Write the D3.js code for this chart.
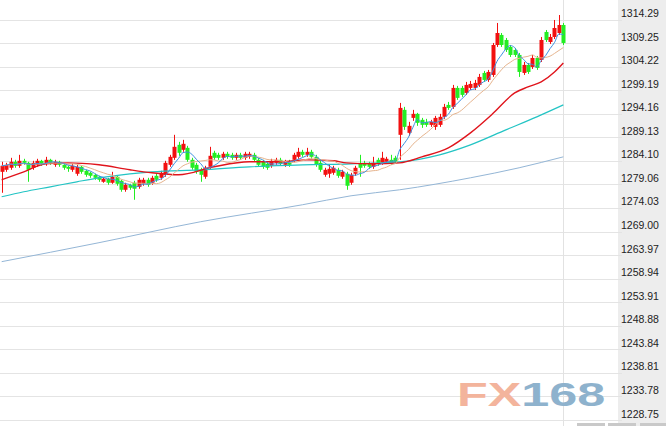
<!DOCTYPE html>
<html><head><meta charset="utf-8">
<script src="https://cdn.jsdelivr.net/npm/d3@7/dist/d3.min.js"></script>
<style>html,body{margin:0;padding:0;background:#fff;overflow:hidden}</style></head>
<body><svg id="c" width="666" height="426"></svg>
<script>
// ---- data ----
const opens = [1280.37,1280.80,1281.23,1282.51,1281.65,1282.72,1282.29,1281.23,1281.87,1282.72,
1282.08,1282.93,1281.87,1282.51,1281.87,1281.44,1280.80,1279.95,1281.44,1280.59,
1280.16,1279.73,1279.31,1278.24,1278.88,1278.03,1279.31,1278.45,1276.53,1277.60,
1278.03,1277.17,1277.81,1278.67,1278.03,1279.52,1279.09,1279.73,1281.87,1283.36,
1286.13,1285.07,1285.49,1282.93,1281.87,1280.80,1279.31,1281.44,1284.43,1284.00,
1283.36,1284.22,1284.00,1283.36,1284.00,1283.36,1283.57,1284.00,1282.93,1282.51,
1282.08,1281.65,1282.29,1282.93,1281.87,1282.51,1282.93,1283.57,1284.64,1284.00,
1284.64,1283.57,1282.29,1279.73,1279.95,1280.16,1280.80,1279.31,1279.95,1278.03,
1279.95,1282.29,1282.29,1282.08,1281.44,1282.93,1282.29,1282.51,1282.93,1283.36,
1288.27,1293.60,1288.69,1291.89,1292.75,1291.47,1291.04,1290.40,1289.97,1290.40,
1292.11,1294.66,1294.24,1298.29,1298.29,1297.22,1298.29,1298.29,1298.93,1301.49,
1300.00,1301.06,1307.46,1309.60,1308.53,1307.04,1306.40,1305.33,1301.49,1303.20,
1302.77,1304.69,1304.26,1310.24,1308.10,1309.17,1310.02,1311.73];
const closes = [1281.65,1281.87,1282.51,1281.65,1282.72,1282.29,1280.80,1282.29,1282.72,1282.08,
1282.93,1282.29,1282.51,1281.87,1281.23,1281.01,1281.65,1281.44,1280.37,1279.73,
1279.52,1279.09,1278.67,1278.88,1278.03,1279.31,1277.81,1276.53,1277.60,1276.96,
1276.75,1278.67,1278.67,1277.60,1279.09,1278.67,1280.16,1282.29,1283.57,1285.71,
1284.43,1286.35,1282.93,1281.23,1280.37,1279.73,1281.23,1283.79,1283.36,1283.36,
1284.22,1283.57,1283.36,1284.00,1283.36,1284.22,1284.22,1282.93,1281.87,1281.44,
1281.23,1282.72,1282.93,1282.08,1282.51,1281.87,1284.00,1284.64,1284.00,1284.64,
1283.57,1281.87,1280.80,1280.80,1281.01,1281.23,1279.52,1280.37,1277.39,1279.73,
1281.23,1281.23,1281.65,1281.44,1282.29,1282.08,1283.36,1283.15,1282.29,1282.51,
1294.02,1289.97,1290.19,1292.75,1290.83,1290.40,1290.40,1291.04,1291.89,1292.11,
1294.24,1294.02,1298.29,1296.16,1296.80,1298.93,1299.14,1299.36,1300.64,1300.00,
1301.70,1307.46,1310.02,1307.46,1306.40,1305.33,1305.33,1301.70,1303.20,1301.70,
1304.69,1302.56,1308.53,1308.53,1309.17,1311.09,1311.73,1307.89];
const highs = [1282.51,1282.29,1283.36,1282.93,1284.00,1283.15,1282.51,1282.72,1283.15,1282.93,
1283.57,1283.15,1282.93,1282.72,1282.08,1281.65,1282.08,1281.87,1281.65,1280.80,
1280.37,1279.95,1279.52,1279.09,1279.09,1280.37,1279.52,1278.67,1278.03,1277.81,
1278.45,1279.09,1279.09,1279.09,1279.52,1279.95,1280.59,1282.72,1284.00,1288.27,
1286.77,1287.20,1285.92,1283.36,1282.29,1281.23,1281.65,1285.71,1284.86,1284.43,
1284.64,1284.64,1284.43,1284.43,1284.43,1284.64,1284.64,1284.43,1283.36,1282.93,
1282.51,1283.15,1283.36,1283.36,1282.93,1282.93,1284.43,1285.49,1285.07,1285.49,
1285.07,1284.00,1282.72,1281.23,1281.87,1281.65,1281.23,1280.80,1280.37,1280.16,
1281.65,1284.00,1282.72,1282.51,1283.57,1283.36,1284.64,1283.57,1284.00,1283.79,
1295.09,1294.24,1291.04,1293.60,1292.96,1291.89,1291.68,1291.47,1292.32,1292.75,
1294.88,1295.30,1298.93,1298.72,1298.72,1299.57,1299.78,1300.00,1301.28,1301.92,
1302.13,1307.89,1312.16,1310.02,1308.96,1307.46,1306.82,1305.76,1303.84,1303.62,
1305.33,1305.12,1309.17,1310.66,1309.81,1312.80,1313.86,1312.16];
const lows = [1275.89,1280.37,1280.80,1281.23,1281.23,1281.87,1278.24,1280.80,1281.44,1281.65,
1281.65,1281.87,1281.44,1281.44,1280.80,1280.37,1280.37,1279.52,1279.95,1279.31,
1279.09,1278.67,1278.24,1278.03,1277.60,1277.81,1277.39,1276.11,1276.11,1276.53,
1274.40,1276.75,1277.39,1277.17,1277.60,1278.24,1278.67,1279.31,1281.44,1282.93,
1283.79,1284.64,1282.51,1280.80,1279.95,1278.24,1278.88,1281.01,1282.93,1282.93,
1282.93,1283.15,1282.93,1282.93,1282.93,1282.93,1283.15,1282.51,1281.44,1281.01,
1280.80,1281.23,1281.87,1281.65,1281.44,1281.44,1282.51,1283.15,1283.57,1283.57,
1283.15,1281.44,1280.37,1279.31,1279.09,1279.73,1279.09,1278.88,1276.53,1277.60,
1279.52,1279.31,1281.23,1281.01,1281.01,1281.65,1281.87,1282.08,1281.87,1282.08,
1282.93,1289.33,1288.05,1291.25,1290.19,1289.76,1289.97,1289.97,1289.33,1289.97,
1291.68,1293.60,1293.81,1295.73,1296.37,1296.80,1297.86,1297.86,1298.50,1299.57,
1299.57,1300.64,1307.04,1307.04,1305.97,1304.90,1304.90,1300.64,1301.06,1301.28,
1302.34,1302.13,1303.84,1308.10,1307.68,1308.74,1309.60,1307.46];

// slower averages at a few candle positions
const redMaIdx = [0,5,10,15,22,29,34,40,48,56,63,69,75,78,84,90,95,101,106,111,116,119,122,125,127];
const redMaVal = [1278.67,1280.37,1282.08,1282.29,1281.87,1280.80,1280.16,1279.73,1281.44,1282.51,
1282.51,1282.93,1282.72,1282.29,1282.08,1282.29,1283.57,1285.49,1288.69,1292.75,1297.22,1298.50,1299.57,1301.70,1303.62];
const cyanMaIdx = [0,5,11,17,22,29,34,45,56,68,79,90,99,106,114,121,127];
const cyanMaVal = [1275.04,1276.11,1277.17,1278.24,1279.09,1279.95,1280.37,1280.80,1281.44,1281.87,
1282.08,1282.51,1284.00,1286.13,1289.33,1292.11,1294.66];
const longMaIdx = [0,22,45,68,79,90,106,117,127];
const longMaVal = [1261.18,1265.23,1269.71,1273.33,1275.25,1276.53,1279.09,1281.23,1283.57];

const tickValues = [1314.29,1309.25,1304.22,1299.19,1294.16,1289.13,1284.10,1279.06,1274.03,
1269.00,1263.97,1258.94,1253.91,1248.88,1243.84,1238.81,1233.78,1228.75];
const tickLabels = ["1314.29","1309.25","1304.22","1299.19","1294.16","1289.13","1284.10","1279.06","1274.03",
"1269.00","1263.97","1258.94","1253.91","1248.88","1243.84","1238.81","1233.78","1228.75"];

// ---- drawing ----
const W = 666, H = 426, plotRight = 618;
const svg = d3.select("#c");
const n = closes.length;
const x = d3.scaleBand().domain(d3.range(n)).range([0, 565]).paddingInner(0.25);
const cx = i => x(i) + x.bandwidth() / 2;
const y = d3.scaleLinear().domain([1228.75, 1314.29]).range([413.5, 13]);

// axis panel background
svg.append("rect").attr("x", plotRight).attr("y", 0).attr("width", W - plotRight).attr("height", H).attr("fill", "#ededed");

// gridlines
svg.append("g").selectAll("line").data(tickValues).join("line")
  .attr("x1", 0).attr("x2", plotRight + 4)
  .attr("y1", d => Math.round(y(d) + 6.5) + 0.5).attr("y2", d => Math.round(y(d) + 6.5) + 0.5)
  .attr("stroke", "#e4e4e4").attr("stroke-width", 1);

// vertical marker
svg.append("line").attr("x1", 563.5).attr("x2", 563.5).attr("y1", 0).attr("y2", H)
  .attr("stroke", "#e2e2e2");

// watermark
const wm = svg.append("text").attr("transform", "translate(457,406) scale(1.48,1)")
  .attr("font-family", "Liberation Sans, Arial, sans-serif").attr("font-weight", "bold").attr("font-size", 34);
wm.append("tspan").attr("fill", "#f3b49c").text("FX");
wm.append("tspan").attr("fill", "#8eb2cd").text("168");

// candles
const up = "#f21010", down = "#22ee22";
const cg = svg.append("g");
d3.range(n).forEach(i => {
  const c = closes[i] >= opens[i] ? up : down;
  const xc = Math.round(cx(i)) + 0.5;
  cg.append("line").attr("x1", xc).attr("x2", xc).attr("y1", y(highs[i])).attr("y2", y(lows[i]))
    .attr("stroke", c).attr("stroke-width", 1);
  const top = y(Math.max(opens[i], closes[i])), bot = y(Math.min(opens[i], closes[i]));
  cg.append("rect").attr("x", xc - 2).attr("width", 4).attr("y", top).attr("height", Math.max(1, bot - top))
    .attr("fill", c);
});

// moving averages
function avg(k) { return closes.map((v, i) => d3.mean(closes.slice(Math.max(0, i - k + 1), i + 1))); }
const ma5 = avg(5), ma10 = avg(10);
const lineIdx = d3.line().x(d => cx(d[0])).y(d => y(d[1])).curve(d3.curveMonotoneX);
function drawMa(idx, vals, color, w) {
  svg.append("path").attr("d", lineIdx(idx.map((k, j) => [k, vals[j]])))
    .attr("fill", "none").attr("stroke", color).attr("stroke-width", w);
}
drawMa(longMaIdx, longMaVal, "#94b6d6", 1);
drawMa(cyanMaIdx, cyanMaVal, "#23c4c4", 1.2);
drawMa(redMaIdx, redMaVal, "#e0141c", 1.4);
drawMa(d3.range(n), ma10, "#e6b48e", 1);
drawMa(d3.range(n), ma5, "#3b8fe0", 1);

// right axis labels
svg.append("g").selectAll("text").data(tickValues).join("text")
  .attr("x", 621).attr("y", d => y(d) + 4)
  .attr("font-family", "Liberation Sans, Arial, sans-serif").attr("font-size", 10.5).attr("fill", "#222")
  .text((d, i) => tickLabels[i]);

// small scroll buttons at bottom right
svg.append("g").selectAll("rect").data([577, 608, 640]).join("rect")
  .attr("x", d => d).attr("y", 423).attr("width", d => d === 640 ? 26 : 28).attr("height", 3).attr("fill", "#c9c9c9");
</script></body></html>
